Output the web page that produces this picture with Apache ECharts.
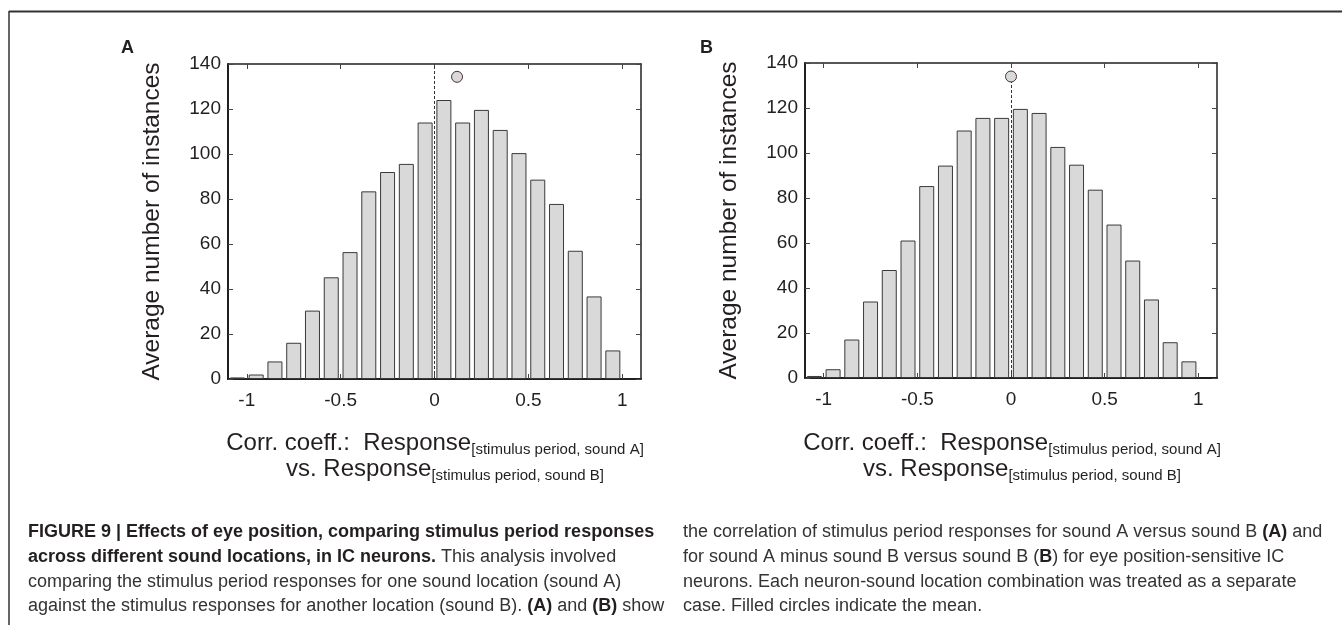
<!DOCTYPE html>
<html>
<head>
<meta charset="utf-8">
<script src="https://cdn.jsdelivr.net/npm/echarts@6/dist/echarts.min.js"></script>
<style>
html,body{margin:0;padding:0;background:#fff;}
#chart{width:1342px;height:625px;}
</style>
</head>
<body>
<div id="chart"></div>
<script>
// ---- data ----
const binCenters = [-1.05, -0.95, -0.85, -0.75, -0.65, -0.55, -0.45, -0.35, -0.25, -0.15, -0.05,
                    0.05, 0.15, 0.25, 0.35, 0.45, 0.55, 0.65, 0.75, 0.85, 0.95];
const countsA = [0.7, 2, 7.8, 16.1, 30.4, 45.2, 56.4, 83.4, 92, 95.6, 114,
                 124, 114, 119.6, 110.7, 100.4, 88.6, 77.8, 57, 36.7, 12.7];
const countsB = [0.9, 3.9, 17.1, 34, 48, 61.1, 85.3, 94.4, 110, 115.6, 115.6,
                 119.6, 117.8, 102.7, 94.8, 83.7, 68.2, 52.2, 34.9, 15.9, 7.4];
const meanA = [0.12, 134.3];
const meanB = [0.0, 134];
const xTickValues = [-1, -0.5, 0, 0.5, 1];
const yAxisTitle = 'Average number of instances';
const panelLabels = ['A', 'B'];

const FONT = "'Liberation Sans', Arial, Helvetica, sans-serif";
const INK = '#231f20';

const chart = echarts.init(document.getElementById('chart'));

const grids = [
  {left: 228, top: 64, width: 413, height: 315},
  {left: 805, top: 63, width: 412, height: 315}
];

const xAxes = [], yAxes = [], series = [];
[[countsA, meanA, false], [countsB, meanB, true]].forEach(([counts, mean, partialLine], g) => {
  xAxes.push({
    type: 'value', gridIndex: g, min: -1.1, max: 1.1, position: 'bottom',
    axisLine: {show: true, onZero: false, lineStyle: {color: INK, width: 2}},
    axisTick: {show: true, inside: true, length: 5, customValues: xTickValues, lineStyle: {color: '#444', width: 1}},
    axisLabel: {show: true, customValues: xTickValues, margin: 12, fontSize: 19, color: INK, fontFamily: FONT,
                formatter: v => String(v)},
    splitLine: {show: false}
  });
  xAxes.push({
    type: 'value', gridIndex: g, min: -1.1, max: 1.1, position: 'top',
    axisLine: {show: true, onZero: false, lineStyle: {color: INK, width: 1.5}},
    axisTick: {show: true, inside: true, length: 5, customValues: xTickValues, lineStyle: {color: '#444', width: 1}},
    axisLabel: {show: false},
    splitLine: {show: false}
  });
  yAxes.push({
    type: 'value', gridIndex: g, min: 0, max: 140, interval: 20, position: 'left',
    name: yAxisTitle, nameLocation: 'middle', nameGap: 63,
    nameTextStyle: {fontSize: 24.5, color: INK, fontFamily: FONT},
    axisLine: {show: true, onZero: false, lineStyle: {color: INK, width: 2}},
    axisTick: {show: true, inside: true, length: 5, lineStyle: {color: '#444', width: 1}},
    axisLabel: {show: true, margin: 7, fontSize: 19, color: INK, fontFamily: FONT},
    splitLine: {show: false}
  });
  yAxes.push({
    type: 'value', gridIndex: g, min: 0, max: 140, interval: 20, position: 'right',
    axisLine: {show: true, onZero: false, lineStyle: {color: INK, width: 1.5}},
    axisTick: {show: true, inside: true, length: 5, lineStyle: {color: '#444', width: 1}},
    axisLabel: {show: false},
    splitLine: {show: false}
  });
  series.push({
    type: 'bar', xAxisIndex: g * 2, yAxisIndex: g * 2,
    data: binCenters.map((c, i) => [c, counts[i]]),
    barWidth: 15,
    itemStyle: {color: '#d9d9d9', borderColor: '#3a3a3a', borderWidth: 1},
    emphasis: {disabled: true},
    silent: true,
    markLine: {
      silent: true, symbol: ['none', 'none'], label: {show: false},
      lineStyle: {type: [3, 2], color: '#333', width: 1},
      emphasis: {disabled: true},
      data: [[{coord: [0, 0]}, {coord: [0, partialLine ? mean[1] : 140]}]]
    },
    z: 2
  });
  series.push({
    type: 'scatter', xAxisIndex: g * 2, yAxisIndex: g * 2,
    data: [mean], symbolSize: 11,
    itemStyle: {color: '#d9d9d9', borderColor: '#4a3038', borderWidth: 1, opacity: 1},
    silent: true, z: 5
  });
});

function titleText(cx, y, main, sub) {
  return {
    type: 'text', x: cx, y: y,
    style: {
      text: '{m|' + main + '}{s|' + sub + '}',
      align: 'center', verticalAlign: 'middle',
      rich: {
        m: {fontSize: 24, lineHeight: 28, fontFamily: FONT, fill: INK, verticalAlign: 'middle'},
        s: {fontSize: 15, lineHeight: 18, fontFamily: FONT, fill: INK, verticalAlign: 'bottom'}
      }
    }
  };
}

const CAP = 18;
function captionLine(x, y, text) {
  return {
    type: 'text', x: x, y: y,
    style: {
      text: text, align: 'left', verticalAlign: 'middle',
      fontSize: CAP, fontFamily: FONT, fill: '#333',
      rich: {
        r: {fontSize: CAP, fontFamily: FONT, fill: '#333'},
        b: {fontSize: CAP, fontFamily: FONT, fill: INK, fontWeight: 'bold'}
      }
    }
  };
}

const capY = [532.4, 557, 581.8, 606.3];
const leftCaption = [
  '{b|FIGURE 9 | Effects of eye position, comparing stimulus period responses}',
  '{b|across different sound locations, in IC neurons.}{r| This analysis involved}',
  '{r|comparing the stimulus period responses for one sound location (sound A)}',
  '{r|against the stimulus responses for another location (sound B). }{b|(A)}{r| and }{b|(B)}{r| show}'
];
const rightCaption = [
  '{r|the correlation of stimulus period responses for sound A versus sound B }{b|(A)}{r| and}',
  '{r|for sound A minus sound B versus sound B (}{b|B}{r|) for eye position-sensitive IC}',
  '{r|neurons. Each neuron-sound location combination was treated as a separate}',
  '{r|case. Filled circles indicate the mean.}'
];

const graphic = [
  {type: 'line', shape: {x1: 9, y1: 11.5, x2: 1342, y2: 11.5}, style: {stroke: '#333', lineWidth: 2}},
  {type: 'line', shape: {x1: 9, y1: 11, x2: 9, y2: 625}, style: {stroke: '#333', lineWidth: 1.5}},
  {type: 'text', x: 121, y: 48, style: {text: panelLabels[0], fontSize: 18, fontWeight: 'bold', fontFamily: FONT, fill: INK, verticalAlign: 'middle'}},
  {type: 'text', x: 700, y: 48, style: {text: panelLabels[1], fontSize: 18, fontWeight: 'bold', fontFamily: FONT, fill: INK, verticalAlign: 'middle'}},
  titleText(435, 443, 'Corr. coeff.:  Response', '[stimulus period, sound A]'),
  titleText(445, 469, 'vs. Response', '[stimulus period, sound B]'),
  titleText(1012, 443, 'Corr. coeff.:  Response', '[stimulus period, sound A]'),
  titleText(1022, 469, 'vs. Response', '[stimulus period, sound B]')
];
leftCaption.forEach((t, i) => graphic.push(captionLine(28, capY[i], t)));
rightCaption.forEach((t, i) => graphic.push(captionLine(683, capY[i], t)));

chart.setOption({
  animation: false,
  backgroundColor: '#fff',
  grid: grids,
  xAxis: xAxes,
  yAxis: yAxes,
  series: series,
  graphic: graphic
});
</script>
</body>
</html>
